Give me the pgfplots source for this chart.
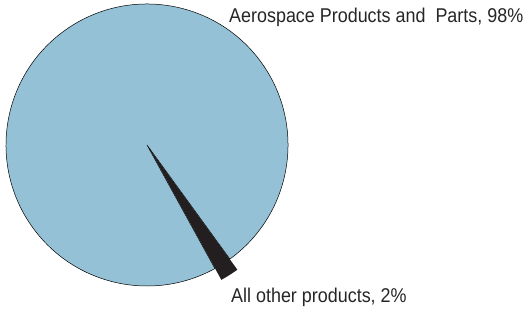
\documentclass[border=0pt]{standalone}
\usepackage{fontspec}
\setmainfont{Liberation Sans}[FakeStretch=0.9]
\usepackage{pgfplots}
\usepackage{pgfplotstable}
\usetikzlibrary{calc}
\pgfplotsset{compat=1.18}
\pgfplotstableread{
label value
Aerospace 98
Other 2
}\datatable
\definecolor{pieblue}{RGB}{148,193,214}
\definecolor{piedark}{RGB}{35,31,32}
\begin{document}
\begin{tikzpicture}
\pgfplotstablegetelem{1}{value}\of\datatable
\pgfmathsetmacro{\otherspan}{\pgfplotsretval*3.6}
\pgfmathsetmacro{\otherstart}{-57.6-\otherspan/2}
\pgfmathsetmacro{\otherend}{-57.6+\otherspan/2}
\pgfmathsetmacro{\blueend}{\otherstart+360}
\begin{axis}[scale only axis, width=524bp, height=311bp,
  xmin=0, xmax=524, ymin=0, ymax=311, hide axis, clip=false]
\coordinate (ll) at (axis cs:0,0);
\coordinate (ur) at (axis cs:524,311);
\filldraw[fill=pieblue, draw=black, line width=0.5pt]
  (axis cs:147,166) -- ++(\otherend:141bp) arc[start angle=\otherend, end angle=\blueend, radius=141bp] -- cycle;
\fill[piedark] ($(axis cs:147,166)+(-57.6:3bp)$) -- ++(\otherstart:151bp) arc[start angle=\otherstart, end angle=\otherend, radius=151bp] -- cycle;
\node[anchor=base west, inner sep=0pt, font=\fontsize{20}{24}\selectfont, text=black!85] at (axis cs:229,288.5) {Aerospace Products and\ \ Parts, 98\%};
\node[anchor=base west, inner sep=0pt, font=\fontsize{20}{24}\selectfont, text=black!85] at (axis cs:231,9) {All other products, 2\%};
\end{axis}
\pgfresetboundingbox
\path (ll) rectangle (ur);
\end{tikzpicture}
\end{document}
